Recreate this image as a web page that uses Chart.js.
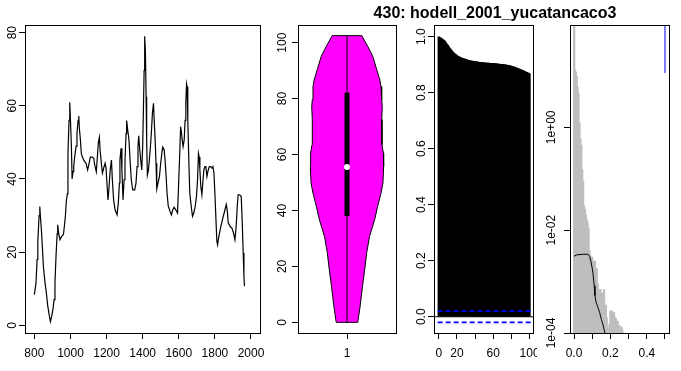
<!DOCTYPE html>
<html>
<head>
<meta charset="utf-8">
<script src="https://cdn.jsdelivr.net/npm/chart.js@4.4.0/dist/chart.umd.min.js"></script>
<style>
  html, body { margin: 0; padding: 0; background: #fff; }
  #wrap { position: relative; width: 681px; height: 371px; overflow: hidden; }
  canvas { position: absolute; top: 0; }
  #title {
    position: absolute; top: 5px; left: 495px; transform: translateX(-50%);
    font: bold 16px "Liberation Sans", Arial, sans-serif; line-height: 16px; white-space: nowrap;
  }
</style>
</head>
<body>
<div id="wrap">
  <canvas id="series" width="265" height="371" style="left:0px"></canvas>
  <canvas id="violin" width="135" height="371" style="left:265px"></canvas>
  <canvas id="acf" width="137" height="371" style="left:400px"></canvas>
  <canvas id="spec" width="144" height="371" style="left:537px"></canvas>
  <div id="title">430: hodell_2001_yucatancaco3</div>
</div>
<script>
// time series
const years = [800, 809, 815, 819, 826, 830, 833, 839, 844, 850, 859, 866, 874, 883, 889, 896, 903, 909, 914, 920,
  926, 929, 935, 942, 951, 961, 966, 972, 977, 983, 986, 992, 996, 1000, 1005, 1009, 1014, 1018, 1023, 1031,
  1036, 1042, 1046, 1049, 1055, 1060, 1066, 1075, 1086, 1095, 1103, 1110, 1119, 1129, 1134, 1143, 1149, 1154, 1160, 1164,
  1171, 1177, 1184, 1192, 1197, 1203, 1208, 1214, 1220, 1227, 1232, 1239, 1247, 1258, 1265, 1271, 1274, 1280, 1285, 1291,
  1297, 1302, 1308, 1311, 1317, 1324, 1330, 1337, 1345, 1356, 1363, 1369, 1374, 1378, 1384, 1389, 1395, 1400, 1404, 1408,
  1411, 1415, 1419, 1422, 1426, 1432, 1437, 1443, 1448, 1454, 1460, 1463, 1469, 1474, 1478, 1485, 1493, 1498, 1506, 1511,
  1519, 1524, 1530, 1535, 1542, 1552, 1559, 1567, 1574, 1583, 1593, 1600, 1606, 1610, 1613, 1619, 1624, 1630, 1635, 1639,
  1643, 1646, 1650, 1656, 1661, 1669, 1676, 1683, 1691, 1698, 1704, 1709, 1713, 1717, 1722, 1728, 1733, 1739, 1745, 1750,
  1756, 1761, 1769, 1776, 1784, 1789, 1795, 1800, 1806, 1811, 1815, 1822, 1833, 1844, 1856, 1863, 1869, 1874, 1885, 1894,
  1903, 1911, 1918, 1924, 1929, 1937, 1946, 1951, 1957, 1961, 1964];
const seriesValues = [8.4, 11.6, 18, 23, 30, 32.5, 30, 26, 21.6, 16, 11.6, 9, 5.3, 2.5, 1, 2.5, 4.4, 7, 11.6, 19,
  25, 27.5, 25, 23.4, 24.3, 24.8, 27, 30, 34, 36, 47, 56, 61, 56, 49, 40, 42, 43.5, 46, 49,
  52.5, 56, 57.2, 54, 50.7, 47, 46, 45, 44.3, 42.5, 44.3, 46, 46, 45.7, 43.9, 42, 46, 49.8, 51.4, 48,
  44.3, 41.6, 43, 44.3, 43, 38, 34.3, 38, 42.5, 45.2, 39.8, 34.3, 31.6, 30.2, 33.4, 38.9, 45.2, 48.4, 42.5, 34.3,
  39.8, 45.2, 52.5, 56, 53.4, 50.7, 45.2, 39.8, 37, 37, 38.9, 43.4, 48.9, 51.8, 48, 45.2, 42.5, 48.9, 58.8, 69.7,
  79, 75, 62.5, 50.7, 41.1, 42.5, 45.2, 48.9, 52.5, 58, 60.7, 57, 50.7, 44.3, 37.3, 38.9, 40.7, 43.4, 47, 48.7,
  48, 45.2, 40.7, 36.1, 32.5, 31.1, 30.2, 31.6, 32.3, 31.6, 30.7, 39.8, 48, 54.3, 53.4, 50.7, 48.9, 50.7, 56, 60.7,
  66, 65.2, 56, 44.3, 36.1, 32.5, 29.8, 30.7, 32.5, 35.2, 39.8, 47, 46, 42.5, 38, 35.7, 38.9, 42.5, 43.4, 43.4,
  40.7, 42, 43.4, 43.4, 43, 43.4, 41.6, 36.1, 28.9, 23, 22, 24.3, 27, 29.3, 31.6, 33, 31.2, 28, 27, 26.6,
  25.3, 23.4, 27, 32.5, 35.7, 35.7, 35.2, 28.9, 19.8, 13.4, 10.7];
const yearTicks = [800, 1000, 1200, 1400, 1600, 1800, 2000];
const seriesTicks = [0, 20, 40, 60, 80];

// violin
const violinLevels = [0, 6, 12.8, 20, 24.7, 30.7, 36.7, 41.5, 46.2, 49.8, 55.8, 60.6, 63.5, 72.5, 77.2, 79.6, 84.3, 86.7, 90.3, 95, 98.6, 102.5];
const violinHalfWidth = [0.11, 0.135, 0.158, 0.185, 0.2, 0.23, 0.282, 0.313, 0.347, 0.367, 0.374, 0.371, 0.357, 0.354, 0.36, 0.354, 0.347, 0.335, 0.304, 0.264, 0.213, 0.151];
const whisker = [0, 102.5];
const quartiles = [38, 82.1];
const median = 55.5;
const violinTicks = [0, 20, 40, 60, 80, 100];

// autocorrelation, lags 0..100
const acfValues = [1.0, 0.998, 0.996, 0.994, 0.991, 0.989, 0.987, 0.983, 0.978, 0.974,
  0.970, 0.965, 0.960, 0.956, 0.952, 0.948, 0.944, 0.941, 0.938, 0.936,
  0.933, 0.931, 0.929, 0.927, 0.926, 0.925, 0.923, 0.922, 0.921, 0.920,
  0.919, 0.918, 0.917, 0.916, 0.915, 0.914, 0.913, 0.913, 0.912, 0.912,
  0.911, 0.911, 0.910, 0.910, 0.909, 0.909, 0.908, 0.908, 0.908, 0.907,
  0.907, 0.907, 0.906, 0.906, 0.906, 0.906, 0.905, 0.905, 0.905, 0.905,
  0.905, 0.904, 0.904, 0.904, 0.903, 0.903, 0.902, 0.902, 0.902, 0.901,
  0.901, 0.901, 0.900, 0.900, 0.899, 0.899, 0.898, 0.898, 0.897, 0.896,
  0.895, 0.894, 0.893, 0.892, 0.891, 0.889, 0.888, 0.887, 0.886, 0.884,
  0.883, 0.882, 0.880, 0.879, 0.877, 0.876, 0.874, 0.873, 0.871, 0.870, 0.868];
const acfBand = 0.02;
const lagTicks = [0, 20, 40, 60, 80, 100];
const lagLabels = ['0', '20', '', '60', '', '100'];
const acfTicks = [0, 0.2, 0.4, 0.6, 0.8, 1.0];

// spectrum
const specFreq = [0.001, 0.005, 0.01, 0.015, 0.02, 0.025, 0.03, 0.035, 0.04, 0.045, 0.05, 0.055, 0.06, 0.065, 0.07,
  0.075, 0.08, 0.085, 0.09, 0.095, 0.1, 0.105, 0.11, 0.115, 0.12, 0.125, 0.13, 0.135, 0.14, 0.145,
  0.15, 0.155, 0.16, 0.165, 0.17, 0.175, 0.18, 0.185, 0.19, 0.195, 0.2, 0.205, 0.21, 0.215, 0.22,
  0.225, 0.23, 0.235, 0.24, 0.245, 0.25, 0.255, 0.26, 0.265, 0.27];
const specPower = [300, 13, 12, 10, 6, 4.5, 1.2, 0.6, 0.45, 0.15, 0.09, 0.03, 0.026, 0.02, 0.016,
  0.014, 0.011, 0.004, 0.0032, 0.0015, 0.003, 0.0025, 0.0022, 0.0025, 0.0012, 0.0018, 0.0009, 0.0007, 0.0006, 0.0007,
  0.0004, 0.0006, 0.0005, 0.0007, 0.0003, 0.00035, 0.0002, 0.00012, 0.00008, 0.00015, 0.00027, 0.0002, 0.00027, 0.00012, 0.00025,
  0.0002, 0.00019, 0.00008, 0.00017, 0.00012, 0.00014, 0.00006, 0.00013, 0.00012, 0.00005];
const smoothFreq = [0, 0.013, 0.049, 0.077, 0.086, 0.095, 0.104, 0.111, 0.115, 0.122, 0.132, 0.141, 0.15, 0.159, 0.17];
const smoothPower = [0.0031, 0.0033, 0.0034, 0.0034, 0.0031, 0.0023, 0.0015, 0.00083, 0.00053, 0.00039, 0.00031, 0.00025, 0.000185, 0.000147, 0.0001];
const nyquistLine = [11.4, 1000];
const freqTicks = [0, 0.1, 0.2, 0.3, 0.4, 0.5];
const freqLabels = ['0.0', '', '0.2', '', '0.4', ''];
const powerTicks = [1e-4, 1e-2, 1];

const tickFont = { family: '"Liberation Sans", Arial, sans-serif', size: 12 };

// draws the R style frame around the plot region
const boxPlugin = {
  id: 'box',
  afterDraw(chart) {
    const { ctx, chartArea: a } = chart;
    ctx.save();
    ctx.strokeStyle = '#000';
    ctx.lineWidth = 1;
    ctx.strokeRect(Math.round(a.left) + 0.5, Math.round(a.top) + 0.5,
      Math.round(a.right - a.left), Math.round(a.bottom - a.top));
    ctx.restore();
  }
};

function axis(kind, min, max, tickValues, size, pad, format, type) {
  const vertical = kind === 'y';
  return {
    type: type || 'linear',
    min: min,
    max: max,
    bounds: 'data',
    offset: false,
    grid: { drawOnChartArea: false, drawTicks: true, tickLength: 6, color: '#000', offset: false },
    border: { display: false },
    afterBuildTicks: (scale) => { scale.ticks = tickValues.map((v) => ({ value: v })); },
    afterFit: (scale) => {
      if (vertical) scale.width = size; else scale.height = size;
      scale.paddingLeft = 0; scale.paddingRight = 0;
      scale.paddingTop = 0; scale.paddingBottom = 0;
    },
    ticks: {
      color: '#000',
      font: tickFont,
      padding: pad,
      autoSkip: false,
      minRotation: vertical ? 90 : 0,
      maxRotation: vertical ? 90 : 0,
      crossAlign: vertical ? 'center' : 'near',
      callback: format,
    },
  };
}

function baseOptions(padRight, scales) {
  return {
    responsive: false,
    animation: false,
    layout: { padding: { top: 25, right: padRight, bottom: 0, left: 0 } },
    plugins: { legend: { display: false }, tooltip: { enabled: false } },
    scales: scales,
  };
}

// 1: time series
new Chart(document.getElementById('series'), {
  type: 'scatter',
  data: {
    datasets: [{
      data: years.map((y, i) => ({ x: y, y: seriesValues[i] })),
      showLine: true,
      borderColor: '#000',
      borderWidth: 1.2,
      pointRadius: 0,
    }],
  },
  options: baseOptions(5, {
    x: axis('x', 748, 2050, yearTicks, 38, 7, (v) => String(v)),
    y: axis('y', -2.1, 82.1, seriesTicks, 25, 0, (v) => String(v)),
  }),
  plugins: [boxPlugin],
});

// 2: violin
const violinShape = [];
violinLevels.forEach((lv, i) => violinShape.push({ x: 1 - violinHalfWidth[i], y: lv }));
for (let i = violinLevels.length - 1; i >= 0; i--) {
  violinShape.push({ x: 1 + violinHalfWidth[i], y: violinLevels[i] });
}
violinShape.push(violinShape[0]);

new Chart(document.getElementById('violin'), {
  type: 'scatter',
  data: {
    datasets: [
      { data: [{ x: 1, y: median }], pointRadius: 3, pointBackgroundColor: '#fff', pointBorderWidth: 0, order: 0 },
      { data: [{ x: 1, y: quartiles[0] }, { x: 1, y: quartiles[1] }], showLine: true, borderColor: '#000', borderWidth: 5, pointRadius: 0, order: 1 },
      { data: [{ x: 1, y: whisker[0] }, { x: 1, y: whisker[1] }], showLine: true, borderColor: '#000', borderWidth: 1, pointRadius: 0, order: 2 },
      { data: violinShape, showLine: true, fill: 'shape', backgroundColor: '#ff00ff', borderColor: '#000', borderWidth: 1, pointRadius: 0, tension: 0, order: 3 },
    ],
  },
  options: baseOptions(4, {
    x: axis('x', 0.5, 1.5, [1], 38, 7, (v) => String(v)),
    y: axis('y', -3.8, 106.3, violinTicks, 33, -1, (v) => String(v)),
  }),
  plugins: [boxPlugin],
});

// 3: autocorrelation
const bandStyle = { showLine: true, borderColor: '#0000ff', borderWidth: 1.6, borderDash: [5, 3], pointRadius: 0, order: 0 };
new Chart(document.getElementById('acf'), {
  type: 'scatter',
  data: {
    datasets: [
      Object.assign({ data: [{ x: -10, y: acfBand }, { x: 110, y: acfBand }] }, bandStyle),
      Object.assign({ data: [{ x: -10, y: -acfBand }, { x: 110, y: -acfBand }] }, bandStyle),
      { data: [{ x: -10, y: 0 }, { x: 110, y: 0 }], showLine: true, borderColor: '#000', borderWidth: 1, pointRadius: 0, order: 1 },
      { type: 'bar', data: acfValues.map((v, i) => ({ x: i, y: v })), backgroundColor: '#000', barThickness: 1.6, grouped: false, order: 2 },
    ],
  },
  options: baseOptions(4, {
    x: axis('x', -5.2, 103.8, lagTicks, 38, 7, (v, i) => lagLabels[i]),
    y: axis('y', -0.058, 1.042, acfTicks, 34, -1.6, (v) => v.toFixed(1)),
  }),
  plugins: [boxPlugin],
});

// 4: spectrum
function sci(v) {
  const e = Math.round(Math.log10(v));
  return '1e' + (e < 0 ? '-' : '+') + String(Math.abs(e)).padStart(2, '0');
}

new Chart(document.getElementById('spec'), {
  type: 'scatter',
  data: {
    datasets: [
      { data: smoothFreq.map((f, i) => ({ x: f, y: smoothPower[i] })), showLine: true, borderColor: '#000', borderWidth: 1, pointRadius: 0, order: 0 },
      { data: [{ x: 0.5, y: nyquistLine[0] }, { x: 0.5, y: nyquistLine[1] }], showLine: true, borderColor: '#0000ff', borderWidth: 1, pointRadius: 0, order: 1 },
      { type: 'bar', data: specFreq.map((f, i) => ({ x: f, y: specPower[i] })), backgroundColor: '#bebebe', barThickness: 1.6, grouped: false, order: 2 },
    ],
  },
  options: baseOptions(12, {
    x: axis('x', -0.022, 0.522, freqTicks, 38, 7, (v, i) => freqLabels[i]),
    y: axis('y', 1e-4, 98, powerTicks, 33, -5, sci, 'logarithmic'),
  }),
  plugins: [boxPlugin],
});
</script>
</body>
</html>
